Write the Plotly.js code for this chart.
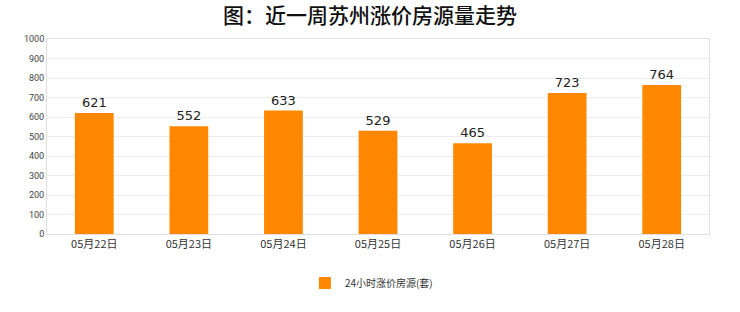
<!DOCTYPE html>
<html><head><meta charset="utf-8">
<script src="https://cdn.plot.ly/plotly-3.0.1.min.js"></script>
<style>html,body{margin:0;padding:0;background:#fff;}</style>
</head><body><div id="chart" style="width:740px;height:312px;"></div>
<script>
const categories = ["05月22日","05月23日","05月24日","05月25日","05月26日","05月27日","05月28日"];
const values = [621, 552, 633, 529, 465, 723, 764];
const seriesName = "24小时涨价房源(套)";
const yTicks = [0,100,200,300,400,500,600,700,800,900,1000];

const trace = {
  type: "bar", x: categories, y: values, name: seriesName,
  marker: {color: "#ff8800"},
  text: values.map(String), textposition: "outside", cliponaxis: false,
  textfont: {family: "DejaVu Sans, sans-serif", size: 13, color: "#222"},
  showlegend: true
};
const layout = {
  width: 740, height: 312,
  margin: {l: 47, r: 31, t: 39, b: 78, autoexpand: false},
  paper_bgcolor: "#fff", plot_bgcolor: "#fff",
  bargap: 0.59,
  title: {text: "图：近一周苏州涨价房源量走势", x: 0.5, xanchor: "center", yref: "container", y: 0.95, yanchor: "middle",
    font: {family: "Noto Sans CJK SC, sans-serif", size: 21, color: "#111", weight: 500}},
  xaxis: {type: "category", showgrid: false, zeroline: false, showline: true, linecolor: "#e0e0e0", mirror: true,
    ticks: "", automargin: false, tickfont: {family: "Noto Sans CJK SC, sans-serif", size: 11, color: "#333"}},
  yaxis: {range: [0, 1000], tickvals: yTicks, ticktext: yTicks.map(String), showgrid: true, gridcolor: "#ececec",
    zeroline: false, showline: true, linecolor: "#e0e0e0", mirror: true, ticks: "", automargin: false,
    tickfont: {family: "Roboto, sans-serif", size: 9, color: "#444"}},
  showlegend: true,
  legend: {orientation: "h", x: 0.49, xanchor: "center", yref: "container", y: 0.093, yanchor: "middle",
    itemwidth: 30,
    font: {family: "Noto Sans CJK SC, sans-serif", size: 10, color: "#333"}}
};
Plotly.newPlot("chart", [trace], layout, {displayModeBar: false, staticPlot: true});
</script></body></html>
